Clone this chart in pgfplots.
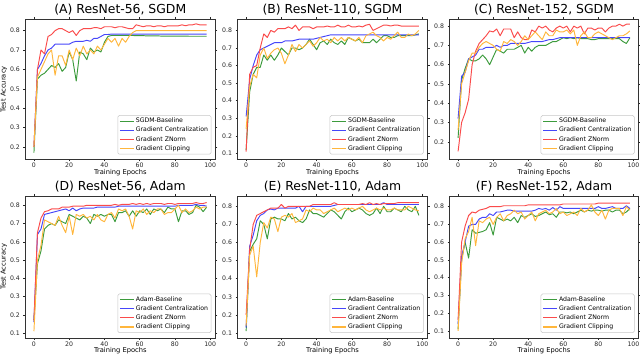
\documentclass[border=0pt]{standalone}
\usepackage{fontspec}
\setmainfont{DejaVu Sans}
\usepackage{pgfplots}
\usepackage{pgfplotstable}
\pgfplotsset{compat=1.18}

\definecolor{cg}{RGB}{60,155,60}
\definecolor{cb}{RGB}{70,70,250}
\definecolor{cr}{RGB}{250,75,75}
\definecolor{co}{RGB}{255,182,60}

\pgfplotstableread{
e sgd gc zn clip
0 0.17 0.20 0.20 0.20
2 0.55 0.60 0.60 0.56
4 0.57 0.63 0.70 0.60
6 0.58 0.67 0.68 0.64
8 0.60 0.70 0.77 0.68
10 0.62 0.71 0.78 0.70
12 0.61 0.73 0.80 0.57
14 0.63 0.73 0.81 0.67
16 0.59 0.73 0.81 0.67
18 0.61 0.73 0.80 0.62
20 0.69 0.73 0.79 0.70
22 0.65 0.74 0.80 0.65
24 0.54 0.745 0.775 0.71
26 0.69 0.745 0.80 0.67
28 0.68 0.745 0.81 0.72
30 0.65 0.75 0.81 0.68
32 0.71 0.745 0.81 0.70
34 0.69 0.76 0.815 0.68
36 0.70 0.76 0.815 0.72
38 0.69 0.77 0.81 0.70
40 0.74 0.78 0.82 0.73
42 0.77 0.78 0.82 0.76
44 0.775 0.782 0.82 0.74
46 0.775 0.782 0.815 0.76
48 0.775 0.782 0.82 0.72
50 0.775 0.782 0.82 0.76
52 0.775 0.782 0.815 0.74
54 0.775 0.782 0.81 0.77
56 0.775 0.782 0.81 0.79
58 0.774 0.782 0.83 0.80
60 0.774 0.782 0.825 0.80
62 0.774 0.782 0.82 0.80
64 0.773 0.782 0.825 0.80
66 0.773 0.782 0.825 0.80
68 0.773 0.782 0.82 0.80
70 0.773 0.782 0.825 0.80
72 0.772 0.782 0.825 0.80
74 0.772 0.782 0.82 0.80
76 0.772 0.782 0.825 0.80
78 0.772 0.782 0.825 0.80
80 0.772 0.782 0.825 0.80
82 0.772 0.782 0.825 0.80
84 0.772 0.782 0.83 0.80
86 0.772 0.782 0.825 0.80
88 0.771 0.782 0.83 0.80
90 0.771 0.782 0.83 0.80
92 0.771 0.782 0.835 0.80
94 0.771 0.782 0.83 0.80
96 0.771 0.782 0.83 0.80
98 0.771 0.782 0.83 0.80
}\tA

\pgfplotstableread{
e sgd gc zn clip
0 0.12 0.31 0.11 0.24
2 0.45 0.52 0.55 0.48
4 0.55 0.60 0.59 0.55
6 0.59 0.66 0.60 0.53
8 0.59 0.69 0.70 0.66
10 0.66 0.70 0.78 0.70
12 0.63 0.71 0.76 0.64
14 0.66 0.72 0.80 0.67
16 0.63 0.73 0.79 0.69
18 0.66 0.73 0.81 0.70
20 0.70 0.73 0.81 0.67
22 0.68 0.74 0.81 0.61
24 0.66 0.74 0.82 0.66
26 0.70 0.74 0.81 0.72
28 0.70 0.745 0.83 0.68
30 0.69 0.75 0.80 0.72
32 0.70 0.75 0.82 0.70
34 0.72 0.75 0.82 0.72
36 0.75 0.75 0.82 0.74
38 0.72 0.75 0.81 0.71
40 0.69 0.755 0.82 0.73
42 0.73 0.76 0.82 0.76
44 0.74 0.765 0.82 0.74
46 0.72 0.77 0.825 0.75
48 0.75 0.775 0.82 0.73
50 0.73 0.775 0.82 0.76
52 0.72 0.775 0.83 0.74
54 0.74 0.775 0.82 0.76
56 0.72 0.775 0.82 0.74
58 0.76 0.775 0.83 0.76
60 0.75 0.775 0.82 0.75
62 0.74 0.775 0.82 0.74
64 0.75 0.775 0.825 0.76
66 0.73 0.775 0.82 0.73
68 0.73 0.775 0.83 0.77
70 0.73 0.775 0.835 0.78
72 0.75 0.775 0.80 0.79
74 0.73 0.775 0.81 0.77
76 0.75 0.775 0.82 0.76
78 0.77 0.775 0.83 0.74
80 0.77 0.775 0.83 0.76
82 0.76 0.775 0.825 0.75
84 0.76 0.775 0.83 0.77
86 0.77 0.775 0.83 0.79
88 0.77 0.775 0.825 0.76
90 0.77 0.775 0.825 0.76
92 0.77 0.775 0.825 0.78
94 0.77 0.775 0.825 0.77
96 0.775 0.775 0.825 0.78
98 0.78 0.775 0.825 0.80
}\tB

\pgfplotstableread{
e sgd gc zn clip
0 0.22 0.32 0.15 0.26
2 0.52 0.54 0.30 0.50
4 0.58 0.56 0.35 0.56
6 0.63 0.63 0.42 0.62
8 0.62 0.64 0.60 0.66
10 0.62 0.65 0.67 0.66
12 0.63 0.68 0.71 0.69
14 0.65 0.68 0.73 0.71
16 0.63 0.69 0.75 0.72
18 0.60 0.69 0.775 0.71
20 0.64 0.69 0.77 0.70
22 0.68 0.70 0.785 0.68
24 0.67 0.69 0.75 0.67
26 0.66 0.70 0.785 0.72
28 0.68 0.70 0.785 0.71
30 0.68 0.71 0.785 0.73
32 0.68 0.71 0.74 0.72
34 0.69 0.71 0.77 0.70
36 0.70 0.71 0.74 0.72
38 0.66 0.71 0.73 0.75
40 0.69 0.715 0.73 0.73
42 0.67 0.72 0.78 0.75
44 0.69 0.72 0.77 0.77
46 0.70 0.72 0.80 0.75
48 0.70 0.72 0.79 0.73
50 0.70 0.725 0.80 0.77
52 0.71 0.73 0.78 0.75
54 0.72 0.73 0.77 0.75
56 0.72 0.735 0.79 0.78
58 0.73 0.74 0.80 0.77
60 0.74 0.74 0.79 0.77
62 0.735 0.74 0.80 0.78
64 0.74 0.74 0.77 0.76
66 0.735 0.74 0.80 0.78
68 0.74 0.74 0.79 0.70
70 0.735 0.74 0.80 0.75
72 0.735 0.74 0.76 0.77
74 0.735 0.74 0.79 0.74
76 0.73 0.74 0.79 0.74
78 0.73 0.74 0.78 0.76
80 0.735 0.74 0.79 0.77
82 0.735 0.74 0.79 0.76
84 0.735 0.74 0.77 0.75
86 0.735 0.74 0.79 0.74
88 0.735 0.74 0.80 0.73
90 0.735 0.74 0.80 0.74
92 0.735 0.74 0.81 0.75
94 0.72 0.74 0.80 0.75
96 0.71 0.74 0.81 0.76
98 0.74 0.74 0.81 0.775
}\tC

\pgfplotstableread{
e sgd gc zn clip
0 0.17 0.16 0.17 0.11
2 0.48 0.64 0.65 0.50
4 0.55 0.67 0.73 0.58
6 0.67 0.75 0.765 0.72
8 0.69 0.755 0.77 0.71
10 0.70 0.76 0.78 0.70
12 0.69 0.765 0.78 0.69
14 0.72 0.77 0.78 0.74
16 0.71 0.775 0.79 0.69
18 0.70 0.78 0.79 0.65
20 0.75 0.77 0.79 0.74
22 0.74 0.785 0.795 0.64
24 0.73 0.77 0.795 0.75
26 0.72 0.78 0.795 0.74
28 0.74 0.785 0.795 0.75
30 0.73 0.785 0.80 0.73
32 0.70 0.785 0.80 0.74
34 0.75 0.785 0.80 0.72
36 0.74 0.79 0.80 0.75
38 0.75 0.79 0.80 0.72
40 0.74 0.79 0.80 0.71
42 0.75 0.79 0.80 0.75
44 0.75 0.79 0.80 0.76
46 0.71 0.79 0.805 0.73
48 0.76 0.795 0.80 0.78
50 0.76 0.795 0.805 0.77
52 0.77 0.795 0.805 0.78
54 0.74 0.795 0.805 0.74
56 0.77 0.795 0.81 0.67
58 0.74 0.795 0.805 0.77
60 0.77 0.795 0.81 0.76
62 0.76 0.795 0.805 0.78
64 0.78 0.795 0.81 0.75
66 0.75 0.795 0.805 0.77
68 0.78 0.795 0.81 0.76
70 0.77 0.795 0.81 0.78
72 0.78 0.795 0.81 0.78
74 0.76 0.795 0.805 0.75
76 0.79 0.795 0.81 0.76
78 0.78 0.795 0.81 0.76
80 0.78 0.795 0.805 0.78
82 0.71 0.80 0.81 0.80
84 0.77 0.80 0.81 0.76
86 0.77 0.80 0.81 0.78
88 0.75 0.80 0.81 0.76
90 0.76 0.80 0.81 0.77
92 0.80 0.805 0.815 0.79
94 0.79 0.80 0.81 0.78
96 0.765 0.80 0.81 0.79
98 0.79 0.795 0.815 0.79
}\tD

\pgfplotstableread{
e sgd gc zn clip
0 0.11 0.13 0.20 0.14
2 0.55 0.58 0.56 0.53
4 0.59 0.64 0.70 0.58
6 0.62 0.72 0.75 0.41
8 0.72 0.75 0.76 0.60
10 0.70 0.76 0.77 0.71
12 0.62 0.78 0.78 0.68
14 0.73 0.785 0.79 0.74
16 0.74 0.78 0.79 0.73
18 0.73 0.79 0.79 0.66
20 0.73 0.79 0.81 0.74
22 0.72 0.79 0.79 0.75
24 0.76 0.79 0.80 0.74
26 0.73 0.79 0.80 0.76
28 0.74 0.79 0.80 0.71
30 0.72 0.80 0.80 0.72
32 0.71 0.77 0.80 0.73
34 0.73 0.80 0.80 0.78
36 0.78 0.80 0.80 0.77
38 0.76 0.80 0.81 0.79
40 0.76 0.80 0.81 0.78
42 0.75 0.80 0.81 0.78
44 0.74 0.80 0.81 0.76
46 0.76 0.80 0.81 0.77
48 0.78 0.80 0.81 0.78
50 0.77 0.805 0.82 0.79
52 0.75 0.81 0.81 0.77
54 0.73 0.81 0.81 0.78
56 0.77 0.81 0.81 0.79
58 0.79 0.81 0.81 0.78
60 0.77 0.81 0.81 0.79
62 0.78 0.81 0.81 0.78
64 0.79 0.81 0.81 0.79
66 0.78 0.81 0.815 0.80
68 0.76 0.81 0.81 0.78
70 0.75 0.81 0.82 0.77
72 0.76 0.81 0.81 0.78
74 0.79 0.81 0.815 0.79
76 0.76 0.81 0.81 0.78
78 0.80 0.82 0.815 0.79
80 0.77 0.81 0.815 0.78
82 0.77 0.81 0.815 0.78
84 0.79 0.81 0.815 0.79
86 0.78 0.81 0.82 0.78
88 0.77 0.81 0.82 0.78
90 0.80 0.81 0.82 0.78
92 0.78 0.81 0.82 0.80
94 0.77 0.81 0.82 0.79
96 0.80 0.81 0.82 0.78
98 0.75 0.81 0.82 0.775
}\tE

\pgfplotstableread{
e sgd gc zn clip
0 0.11 0.14 0.16 0.10
2 0.50 0.52 0.60 0.48
4 0.60 0.60 0.69 0.62
6 0.51 0.69 0.75 0.66
8 0.67 0.70 0.77 0.74
10 0.65 0.70 0.765 0.58
12 0.655 0.73 0.78 0.72
14 0.66 0.74 0.785 0.71
16 0.67 0.74 0.79 0.73
18 0.71 0.76 0.80 0.74
20 0.64 0.75 0.80 0.70
22 0.74 0.77 0.80 0.74
24 0.73 0.77 0.80 0.76
26 0.72 0.775 0.805 0.72
28 0.73 0.78 0.805 0.75
30 0.72 0.78 0.805 0.76
32 0.74 0.775 0.805 0.78
34 0.71 0.775 0.805 0.76
36 0.75 0.775 0.805 0.77
38 0.74 0.775 0.805 0.73
40 0.75 0.775 0.81 0.75
42 0.76 0.775 0.81 0.77
44 0.745 0.78 0.81 0.72
46 0.75 0.79 0.81 0.76
48 0.76 0.785 0.81 0.77
50 0.77 0.79 0.81 0.78
52 0.755 0.78 0.81 0.76
54 0.76 0.795 0.81 0.77
56 0.74 0.78 0.81 0.79
58 0.77 0.80 0.81 0.76
60 0.77 0.79 0.815 0.77
62 0.765 0.79 0.815 0.75
64 0.77 0.79 0.815 0.76
66 0.76 0.79 0.815 0.77
68 0.77 0.79 0.815 0.75
70 0.78 0.79 0.815 0.79
72 0.77 0.79 0.815 0.77
74 0.78 0.79 0.815 0.78
76 0.775 0.79 0.815 0.81
78 0.78 0.79 0.815 0.77
80 0.78 0.80 0.82 0.75
82 0.775 0.79 0.82 0.78
84 0.78 0.79 0.82 0.73
86 0.78 0.795 0.82 0.78
88 0.77 0.80 0.82 0.79
90 0.78 0.79 0.82 0.79
92 0.78 0.79 0.82 0.79
94 0.76 0.79 0.82 0.75
96 0.77 0.805 0.82 0.80
98 0.79 0.79 0.82 0.78
}\tF

\pgfplotsset{
  panel/.style={
    scale only axis, width=190pt, height=140.5pt,
    anchor=south west,
    xmin=-4.9, xmax=102.9,
    xtick={0,20,40,60,80,100},
    tick align=outside, major tick length=2pt,
    tick style={black!85, line width=0.5pt},
    axis line style={black!80, line width=0.6pt},
    /pgf/number format/assume math mode=true,
    ticklabel style={font=\fontsize{6.2}{7}\selectfont, text=black!85},
    xticklabel style={anchor=north, inner sep=0pt, yshift=-1.2pt},
    yticklabel style={anchor=east, inner sep=0pt, xshift=-3.2pt},
    yticklabel={\pgfmathprintnumber[fixed,precision=1,fixed zerofill]{\tick}},
    xlabel={Training Epochs},
    xlabel style={font=\fontsize{6.7}{8}\selectfont, at={(axis description cs:0.5,0)}, anchor=base, inner sep=0pt, yshift=-14.7pt},
    ylabel style={font=\fontsize{6.7}{8}\selectfont, at={(axis description cs:-0.113,0.5)}, anchor=center, inner sep=0pt},
    every axis title/.style={font=\fontsize{12.4}{14}\selectfont, at={(axis description cs:0.5,1)}, anchor=base, inner sep=0pt, yshift=5.6pt},
    legend cell align=left,
    legend style={
      at={(axis description cs:1,0)}, anchor=south east, xshift=-4pt, yshift=5pt,
      font=\fontsize{6.2}{7}\selectfont,
      draw=black!22, line width=0.5pt, rounded corners=1.5pt, fill=white,
      inner xsep=1.5pt, inner ysep=1.2pt, row sep=0pt,
      nodes={inner xsep=1.5pt, inner ysep=1.6pt, text height=4.6pt, text depth=1.3pt},
    },
    legend image code/.code={\draw[#1, line width=1.1pt] (0pt,0pt) -- (14pt,0pt);},
    every axis plot/.append style={line width=0.95pt, line join=round, mark=none},
  },
}

\begin{document}
\begin{tikzpicture}
\path[use as bounding box] (0pt,0pt) rectangle (640pt,356pt);

% (A)
\begin{axis}[panel, at={(25.3pt,196.5pt)}, ymin=0.135, ymax=0.86,
  ytick={0.2,0.3,0.4,0.5,0.6,0.7,0.8},
  title={(A) ResNet-56, SGDM}, ylabel={Test Accuracy}]
\addplot[cg] table[x=e,y=sgd] {\tA};
\addplot[cb] table[x=e,y=gc] {\tA};
\addplot[cr] table[x=e,y=zn] {\tA};
\addplot[co] table[x=e,y=clip] {\tA};
\legend{SGDM-Baseline, Gradient Centralization, Gradient ZNorm, Gradient Clipping}
\end{axis}

% (B)
\begin{axis}[panel, at={(237.5pt,196.5pt)}, ymin=0.065, ymax=0.865,
  ytick={0.1,0.2,0.3,0.4,0.5,0.6,0.7,0.8},
  title={(B) ResNet-110, SGDM}]
\addplot[cg] table[x=e,y=sgd] {\tB};
\addplot[cb] table[x=e,y=gc] {\tB};
\addplot[cr] table[x=e,y=zn] {\tB};
\addplot[co] table[x=e,y=clip] {\tB};
\legend{SGDM-Baseline, Gradient Centralization, Gradient ZNorm, Gradient Clipping}
\end{axis}

% (C)
\begin{axis}[panel, at={(449.5pt,196.5pt)}, width=189pt, ymin=0.108, ymax=0.837,
  ytick={0.2,0.3,0.4,0.5,0.6,0.7,0.8},
  title={(C) ResNet-152, SGDM}]
\addplot[cg] table[x=e,y=sgd] {\tC};
\addplot[cb] table[x=e,y=gc] {\tC};
\addplot[cr] table[x=e,y=zn] {\tC};
\addplot[co] table[x=e,y=clip] {\tC};
\legend{SGDM-Baseline, Gradient Centralization, Gradient ZNorm, Gradient Clipping}
\end{axis}

% (D)
\begin{axis}[panel, at={(25.3pt,18pt)}, height=142pt, ymin=0.073, ymax=0.851,
  ytick={0.1,0.2,0.3,0.4,0.5,0.6,0.7,0.8},
  title={(D) ResNet-56, Adam}, ylabel={Test Accuracy}]
\addplot[cg] table[x=e,y=sgd] {\tD};
\addplot[cb] table[x=e,y=gc] {\tD};
\addplot[cr] table[x=e,y=zn] {\tD};
\addplot[co] table[x=e,y=clip] {\tD};
\legend{Adam-Baseline, Gradient Centralization, Gradient ZNorm, Gradient Clipping}
\end{axis}

% (E)
\begin{axis}[panel, at={(237.5pt,18pt)}, height=142pt, ymin=0.072, ymax=0.857,
  ytick={0.1,0.2,0.3,0.4,0.5,0.6,0.7,0.8},
  title={(E) ResNet-110, Adam}]
\addplot[cg] table[x=e,y=sgd] {\tE};
\addplot[cb] table[x=e,y=gc] {\tE};
\addplot[cr] table[x=e,y=zn] {\tE};
\addplot[co] table[x=e,y=clip] {\tE};
\legend{Adam-Baseline, Gradient Centralization, Gradient ZNorm, Gradient Clipping}
\end{axis}

% (F)
\begin{axis}[panel, at={(449.5pt,18pt)}, width=189pt, height=142pt, ymin=0.06, ymax=0.86,
  ytick={0.1,0.2,0.3,0.4,0.5,0.6,0.7,0.8},
  title={(F) ResNet-152, Adam}]
\addplot[cg] table[x=e,y=sgd] {\tF};
\addplot[cb] table[x=e,y=gc] {\tF};
\addplot[cr] table[x=e,y=zn] {\tF};
\addplot[co] table[x=e,y=clip] {\tF};
\legend{Adam-Baseline, Gradient Centralization, Gradient ZNorm, Gradient Clipping}
\end{axis}
\end{tikzpicture}
\end{document}
